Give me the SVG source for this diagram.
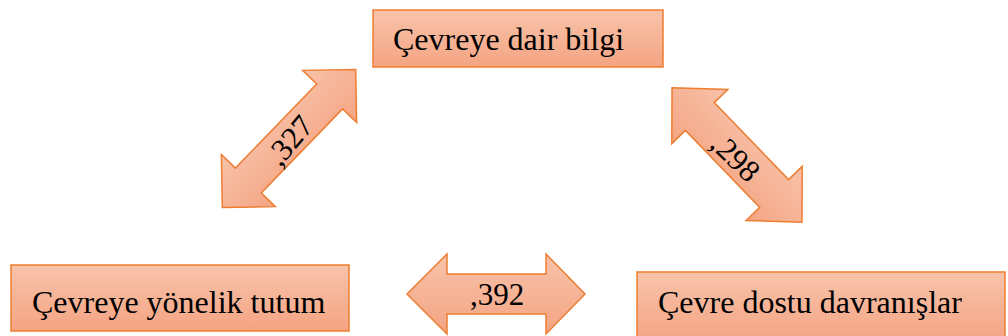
<svg xmlns="http://www.w3.org/2000/svg" width="1008" height="336" viewBox="0 0 1008 336">
<style>
.box{fill:url(#g);stroke:#ED7D31;stroke-width:1.5}
.arr{fill:url(#g);stroke:#ED7D31;stroke-width:1.5;stroke-linejoin:miter}
.t{font-family:Liberation Serif,serif;font-size:32px;fill:#000}
.n{font-family:Liberation Serif,serif;font-size:31px;fill:#000;text-anchor:middle}
</style>
<defs>
<linearGradient id="g" x1="0" y1="0" x2="0" y2="1">
<stop offset="0" stop-color="#F8C3AA"/>
<stop offset="1" stop-color="#F4A483"/>
</linearGradient>
</defs>
<rect width="1008" height="336" fill="#fff"/>
<g id="node-bilgi">
<rect class="box" x="373" y="10" width="290" height="57"/>
<text class="t" font-family="Liberation Serif" x="393" y="50">Çevreye dair bilgi</text>
</g>
<g id="node-tutum">
<rect class="box" x="11" y="265" width="338" height="66"/>
<text class="t" font-family="Liberation Serif" x="32" y="313">Çevreye yönelik tutum</text>
</g>
<g id="node-davranis">
<rect class="box" x="637" y="272" width="368" height="70"/>
<text class="t" font-family="Liberation Serif" x="658" y="313">Çevre dostu davranışlar</text>
</g>
<g id="connectors">
<g transform="translate(289,138.5) rotate(-46)">
<path class="arr" d="M-96,0 L-58.5,-37.5 L-58.5,-18 L58.5,-18 L58.5,-37.5 L96,0 L58.5,37.5 L58.5,18 L-58.5,18 L-58.5,37.5 Z"/>
</g>
<text class="n" font-family="Liberation Serif" transform="translate(289,140) rotate(-50)" y="11">,327</text>
<g transform="translate(737,155) rotate(46)">
<path class="arr" d="M-93.5,0 L-53.5,-39 L-53.5,-20 L53.5,-20 L53.5,-39 L93.5,0 L53.5,39 L53.5,20 L-53.5,20 L-53.5,39 Z"/>
</g>
<text class="n" font-family="Liberation Serif" transform="translate(736,157) rotate(44)" y="11">,298</text>
<path class="arr" d="M407,294 L447,254 L447,274 L546,274 L546,254 L585,294 L546,334 L546,314 L447,314 L447,334 Z"/>
<text class="n" font-family="Liberation Serif" x="497" y="305">,392</text>
</g>
</svg>
